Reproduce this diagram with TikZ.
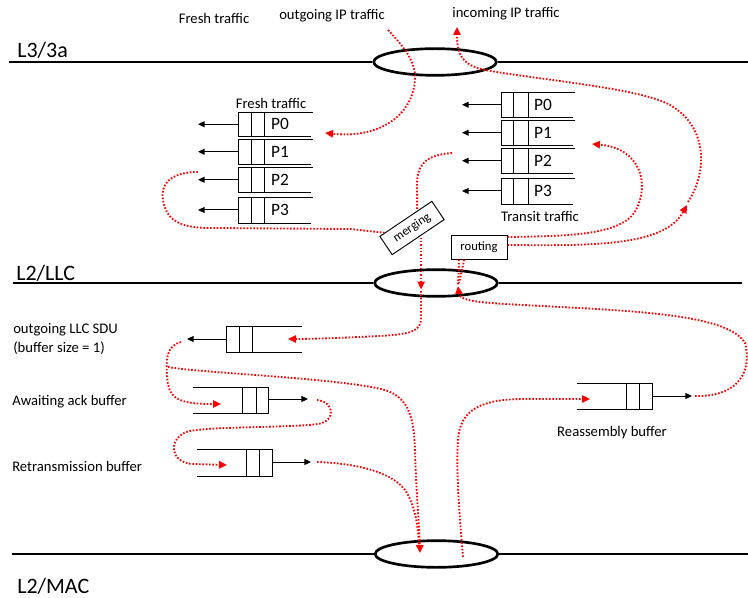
\documentclass[tikz,border=0pt]{standalone}
\usepackage{fontspec}
\setmainfont{Carlito}
\usetikzlibrary{arrows.meta,shapes.geometric,calc}
\begin{document}
\begin{tikzpicture}[x=0.75pt,y=-0.75pt,
  layer/.style={line width=1.5pt},
  lens/.style={draw, ellipse, line width=2pt, minimum width=92pt, minimum height=20pt, inner sep=0pt},
  qline/.style={line width=0.55pt},
  karrow/.style={line width=0.75pt, -{Triangle[length=5pt,width=4.5pt]}},
  reddot/.style={red, line width=1.4pt, dash pattern=on 1.2pt off 1.3pt},
  redtip/.style={-{Triangle[length=6pt,width=5.5pt]}},
  txt/.style={font=\fontsize{11}{13}\selectfont, inner sep=0pt},
  plab/.style={font=\fontsize{13}{15}\selectfont, inner sep=0pt},
  laylab/.style={font=\fontsize{16.5}{19}\selectfont, inner sep=0pt, anchor=west},
  tagbox/.style={draw, line width=0.7pt, font=\fontsize{9.5}{11}\selectfont, inner sep=0pt, fill=white},
]
\useasboundingbox (0,0) rectangle (748,598);

% layers
\node[lens] (e3) at (435,62) {};
\draw[layer] (9,62) -- (e3.west) (e3.east) -- (748,62);
\node[lens] (e2) at (436,283) {};
\draw[layer] (13,283) -- (e2.west) (e2.east) -- (742,283);
\node[lens] (e1) at (436.5,554) {};
\draw[layer] (12,554) -- (e1.west) (e1.east) -- (748,554);

\node[laylab] (l3) at (17,50) {L3/3a};
\node[laylab] (l2) at (16,273) {L2/LLC};
\node[laylab] (l1) at (17,586) {L2/MAC};

\node[txt] (tfresh) at (214,18) {Fresh traffic};
\node[txt] (tout) at (332,16) {outgoing IP traffic};
\node[txt] (tin) at (506,14) {incoming IP traffic};

% fresh traffic queues
\foreach \qt/\qb/\ql in {112/136.5/P0,139/164.5/P1,167/192.5/P2,197/223/P3}{
  \draw[qline] (313,\qt) -- (238,\qt) -- (238,\qb) -- (311,\qb);
  \draw[qline] (251,\qt) -- (251,\qb) (264,\qt) -- (264,\qb);
  \node[plab] at (280,{(\qt+\qb)/2}) {\ql};
  \draw[karrow] (238,{(\qt+\qb)/2}) -- (198,{(\qt+\qb)/2});
}
\node[txt] (lfresh) at (271,103) {Fresh traffic};

% transit traffic queues
\foreach \qt/\qb/\ql in {92/117.5/P0,120/145.5/P1,148/173.5/P2,178/204/P3}{
  \draw[qline] (575,\qt) -- (501,\qt) -- (501,\qb) -- (573,\qb);
  \draw[qline] (513,\qt) -- (513,\qb) (528,\qt) -- (528,\qb);
  \node[plab] at (543,{(\qt+\qb)/2}) {\ql};
  \draw[karrow] (501,{(\qt+\qb)/2}) -- (462,{(\qt+\qb)/2});
}
\node[txt] (ltransit) at (540,216) {Transit traffic};

% merging / routing
\node[tagbox, rotate=34, minimum width=47pt, minimum height=16.5pt] (merge) at (412,228) {merging};
\node[tagbox, minimum width=42pt, minimum height=18pt] (route) at (479,247) {routing};

% lower buffers
\draw[qline] (302,326) -- (226,326) -- (226,352) -- (302,352);
\draw[qline] (239,326) -- (239,352) (252,326) -- (252,352);
\draw[karrow] (226,339) -- (187,339);

\draw[qline] (193,387) -- (268,387) -- (268,413) -- (193,413);
\draw[qline] (242,387) -- (242,413) (256,387) -- (256,413);
\draw[karrow] (268,399) -- (308,399);

\draw[qline] (197,449) -- (272,449) -- (272,476) -- (197,476);
\draw[qline] (246,449) -- (246,476) (259,449) -- (259,476);
\draw[karrow] (272,462) -- (311,462);

\draw[qline] (577,383) -- (652,383) -- (652,409) -- (577,409);
\draw[qline] (626,383) -- (626,409) (639,383) -- (639,409);
\draw[karrow] (652,396) -- (692,396);

\node[txt, anchor=west] (lsdu) at (13,330) {outgoing LLC SDU};
\node[txt, anchor=west] (lsdu2) at (13,348) {(buffer size = 1)};
\node[txt, anchor=west] (lack) at (12,402) {Awaiting ack buffer};
\node[txt, anchor=west] (lret) at (12,466) {Retransmission buffer};
\node[txt] (lrea) at (612,433) {Reassembly buffer};

% red flows
\draw[reddot, redtip] (388,30) .. controls (405,48) and (416,62) .. (415,80) .. controls (413,108) and (392,130) .. (355,134) .. controls (345,135) and (335,134) .. (325,133);
\draw[reddot, redtip] (688,202) .. controls (706,175) and (710,128) .. (670,105) .. controls (640,88) and (540,80) .. (485,70) .. controls (462,65) and (457,55) .. (457,27);
\draw[reddot, redtip] ([yshift=1.5pt]route.east) .. controls (600,246) and (665,245) .. (687,205);
\draw[reddot, redtip] ([yshift=7.5pt]route.east) .. controls (565,236) and (622,236) .. (636,210) .. controls (650,183) and (640,148) .. (592,144);
\draw[reddot, redtip] (695,396) .. controls (740,397) and (752,370) .. (745,343) .. controls (730,318) and (660,312) .. (560,307) .. controls (490,303) and (460,303) .. (458,286);
\draw[reddot] ([xshift=-15pt]route.south) -- (458,285);
\draw[reddot] ([xshift=-11pt]route.south) -- (459,283);
\draw[reddot, redtip] ([xshift=2pt]merge.south) -- ++(0,52);
\draw[reddot] (198,172) .. controls (170,172) and (160,185) .. (163,200) .. controls (166,220) and (180,228) .. (210,228) -- (350,229) -- ($(merge.north west)!0.1!(merge.north east)$);
\draw[reddot] (452,153) .. controls (425,155) and (417,165) .. (417,185) -- ($(merge.north west)!0.72!(merge.north east)$);
\draw[reddot, redtip] (421,291) -- (421,318) .. controls (421,332) and (410,334) .. (380,336) .. controls (340,338) and (310,339) .. (288,339);
\draw[reddot, redtip] (181,342) .. controls (166,346) and (166,360) .. (167,375) .. controls (168,398) and (176,404) .. (221,404);
\draw[reddot, redtip] (168,367) .. controls (200,373) and (340,378) .. (385,390) .. controls (410,398) and (414,420) .. (415,450) .. controls (416,490) and (419,520) .. (420,553);
\draw[reddot] (317,462) .. controls (350,463) and (390,470) .. (405,490) .. controls (415,505) and (418,525) .. (419,545);
\draw[reddot, redtip] (317,400) .. controls (335,402) and (336,421) .. (318,424) .. controls (290,428) and (205,426) .. (186,432) .. controls (168,440) and (170,462) .. (192,464) -- (227,465);
\draw[reddot, redtip] (463,557) .. controls (459,510) and (456,470) .. (458,440) .. controls (460,410) and (480,400) .. (520,399) -- (590,399);
\end{tikzpicture}
\end{document}
